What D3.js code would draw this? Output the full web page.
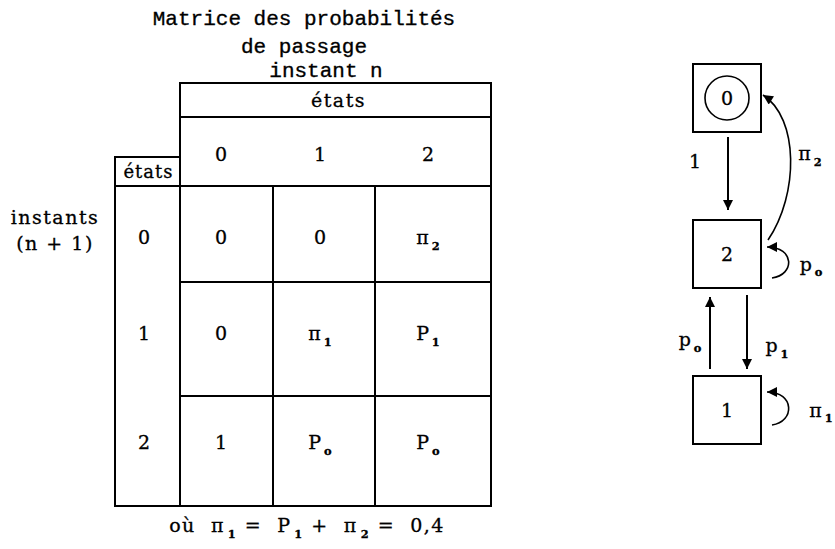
<!DOCTYPE html>
<html>
<head>
<meta charset="utf-8">
<script src="https://cdn.jsdelivr.net/npm/d3@7"></script>
<style>
  body { margin: 0; background: #fff; }
  .mono { font-family: "Liberation Mono", monospace; stroke: #000; stroke-width: 0.35px; }
  .serif { font-family: "DejaVu Serif", serif; stroke: #000; stroke-width: 0.3px; }
</style>
</head>
<body>
<script>
// ---- data ----
const titleLines = ["Matrice des probabilités", "de passage"];
const colTitle = "instant n";
const rowTitle = ["instants", "(n + 1)"];
const headerWord = "états";
const states = ["0", "1", "2"];
// rows = state at instant n+1, columns = state at instant n ("_x" = subscript x)
const cells = [
  ["0", "0", "π_2"],
  ["0", "π_1", "P_1"],
  ["1", "P_o", "P_o"]
];
const footnote = "où  π_1 =  P_1 +  π_2 =  0,4";

// graph : nodes top to bottom, edges with their labels
const nodeOrder = ["0", "2", "1"];
const circledNode = "0";
const edges = [
  { from: "0", to: "2", label: "1" },
  { from: "2", to: "0", label: "π_2" },
  { from: "2", to: "2", label: "p_o" },
  { from: "2", to: "1", label: "p_1" },
  { from: "1", to: "2", label: "p_o" },
  { from: "1", to: "1", label: "π_1" }
];

const width = 835, height = 549;

let svg = d3.select('body').append('svg')
            .attr('width', width)
            .attr('height', height);

svg.append('defs').append('marker')
   .attr('id', 'head')
   .attr('markerUnits', 'userSpaceOnUse')
   .attr('viewBox', '0 0 10 10')
   .attr('refX', 10).attr('refY', 5)
   .attr('markerWidth', 11).attr('markerHeight', 10)
   .attr('orient', 'auto')
   .append('path').attr('d', 'M0,0 L10,5 L0,10 Z').attr('fill', '#000');

// write a label with "_x" subscripts
function label(sel, txt, size) {
  sel.attr('font-size', size);
  let parts = txt.split(/_(\w)/);
  let back = 0;
  parts.forEach((p, i) => {
    if (p === '') return;
    if (i % 2 === 0) {
      sel.append('tspan').attr('font-size', size).attr('dy', back).text(p);
      back = 0;
    } else {
      sel.append('tspan')
         .attr('font-size', size * 0.6)
         .attr('font-weight', 'bold')
         .attr('dx', size * 0.15)
         .attr('dy', size * 0.3)
         .text(p);
      back = -size * 0.3;
    }
  });
  return sel;
}

// ---- titles ----
svg.selectAll('text.title')
   .data(titleLines)
   .enter().append('text')
   .attr('class', 'mono title')
   .attr('x', 304)
   .attr('y', (d, i) => 25 + i * 28)
   .attr('text-anchor', 'middle')
   .attr('font-size', 21)
   .text(d => d);

svg.append('text').attr('class', 'mono')
   .attr('x', 326).attr('y', 77)
   .attr('text-anchor', 'middle').attr('font-size', 21)
   .text(colTitle);

svg.selectAll('text.rowtitle')
   .data(rowTitle)
   .enter().append('text')
   .attr('class', 'serif rowtitle')
   .attr('x', 55)
   .attr('y', (d, i) => 224 + i * 26)
   .attr('text-anchor', 'middle')
   .attr('font-size', 19)
   .attr('letter-spacing', 1.5)
   .text(d => d);

// ---- table ----
let colEdge = [180, 273, 375, 491];
let rowEdge = [186, 282, 396, 506];
let x = d3.scaleOrdinal().domain(states).range(colEdge.slice(0, 3));
let xText = d3.scaleOrdinal().domain(states).range([221, 320, 428]);
let yText = d3.scaleOrdinal().domain(states).range([237, 333, 442]);
let rowHeadX = 144;
let tableLeft = 115, tableRight = colEdge[3];

let g = svg.append('g').attr('stroke', '#000').attr('stroke-width', 2).attr('fill', 'none');
let lines = [
  // header
  [colEdge[0], 83, tableRight, 83],
  [colEdge[0], 117, tableRight, 117],
  [tableLeft, rowEdge[0], tableRight, rowEdge[0]],
  [colEdge[0], 83, colEdge[0], rowEdge[3]],
  [tableRight, 83, tableRight, rowEdge[3]],
  [tableLeft, 157, colEdge[0], 157],
  [tableLeft, 157, tableLeft, rowEdge[3]],
  [tableLeft, rowEdge[3], tableRight, rowEdge[3]],
  // body
  [x("1"), rowEdge[0], x("1"), rowEdge[3]],
  [x("2"), rowEdge[0], x("2"), rowEdge[3]],
  [colEdge[0], rowEdge[1], tableRight, rowEdge[1]],
  [colEdge[0], rowEdge[2], tableRight, rowEdge[2]]
];
g.selectAll('line').data(lines).enter().append('line')
 .attr('x1', d => d[0]).attr('y1', d => d[1])
 .attr('x2', d => d[2]).attr('y2', d => d[3])
 .attr('stroke-linecap', 'square');

svg.append('text').attr('class', 'serif')
   .attr('x', (colEdge[0] + tableRight) / 2 + 3).attr('y', 107)
   .attr('text-anchor', 'middle').attr('font-size', 19)
   .attr('letter-spacing', 1.5)
   .text(headerWord);
svg.append('text').attr('class', 'serif')
   .attr('x', (tableLeft + colEdge[0]) / 2 + 1).attr('y', 178)
   .attr('text-anchor', 'middle').attr('font-size', 18)
   .attr('letter-spacing', 1)
   .text(headerWord);

// column headers
svg.selectAll('text.colhead').data(states).enter().append('text')
   .attr('class', 'serif colhead')
   .attr('x', d => xText(d)).attr('y', 161)
   .attr('text-anchor', 'middle').attr('font-size', 19)
   .text(d => d);

// row headers
svg.selectAll('text.rowhead').data(states).enter().append('text')
   .attr('class', 'serif rowhead')
   .attr('x', rowHeadX).attr('y', d => yText(d) + 7)
   .attr('text-anchor', 'middle').attr('font-size', 19)
   .text(d => d);

// cells
cells.forEach((row, r) => {
  row.forEach((c, k) => {
    let t = svg.append('text').attr('class', 'serif')
               .attr('x', xText(states[k])).attr('y', yText(states[r]) + 7)
               .attr('text-anchor', 'middle');
    label(t, c, 19);
  });
});

// footnote
label(svg.append('text').attr('class', 'serif')
         .attr('x', 307).attr('y', 532)
         .attr('text-anchor', 'middle')
         .attr('letter-spacing', 1.5)
         .style('white-space', 'pre'), footnote, 19);

// ---- state graph ----
let cx = 727, half = 34;
let ny = d3.scalePoint().domain(nodeOrder).range([98, 410]);

let nodes = svg.append('g');
nodes.selectAll('rect').data(nodeOrder).enter().append('rect')
     .attr('x', cx - half).attr('y', d => ny(d) - half)
     .attr('width', half * 2).attr('height', half * 2)
     .attr('fill', 'none').attr('stroke', '#000').attr('stroke-width', 2);
nodes.append('circle')
     .attr('cx', cx).attr('cy', ny(circledNode)).attr('r', 22)
     .attr('fill', 'none').attr('stroke', '#000').attr('stroke-width', 1.6);
nodes.selectAll('text').data(nodeOrder).enter().append('text')
     .attr('class', 'serif')
     .attr('x', cx).attr('y', d => ny(d) + 7)
     .attr('text-anchor', 'middle').attr('font-size', 19)
     .text(d => d);

function edgeGeom(e) {
  let y1 = ny(e.from), y2 = ny(e.to);
  if (e.from === e.to) {
    // small loop on the right side
    let sy = y1 + (e.from === "1" ? 15 : 24);
    let ey = y1 + (e.from === "1" ? -18 : -7);
    return {
      d: `M${cx + 45},${sy} C${cx + 68},${sy - 3} ${cx + 68},${ey} ${cx + 40},${ey}`,
      lx: cx + (e.from === "1" ? 94 : 84), ly: (sy + ey) / 2 + 8, w: 1.6
    };
  }
  if (y2 < y1 && e.to === "0") {
    // long arc back to the top
    return {
      d: `M${cx + 41},${y1 - 14} C${cx + 72},${y1 - 60} ${cx + 72},${y2 + 20} ${cx + 36},${y2 - 3}`,
      lx: cx + 83, ly: (y1 + y2) / 2 - 16, w: 1.6
    };
  }
  if (y2 > y1 && e.from === "0") {
    return {
      d: `M${cx + 1},${y1 + half + 5} L${cx + 1},${y2 - half - 10}`,
      lx: cx - 32, ly: (y1 + y2) / 2 - 8, w: 2
    };
  }
  if (y2 > y1) {
    return {
      d: `M${cx + 20},${y1 + half + 7} L${cx + 20},${y2 - half - 7}`,
      lx: cx + 50, ly: (y1 + y2) / 2 + 20, w: 2
    };
  }
  return {
    d: `M${cx - 17},${y1 - half - 7} L${cx - 17},${y2 + half + 9}`,
    lx: cx - 37, ly: (y1 + y2) / 2 + 14, w: 2
  };
}

let eg = svg.append('g');
edges.forEach(e => {
  let geo = edgeGeom(e);
  eg.append('path').attr('d', geo.d)
    .attr('fill', 'none').attr('stroke', '#000')
    .attr('stroke-width', geo.w)
    .attr('marker-end', 'url(#head)');
  let t = eg.append('text').attr('class', 'serif')
            .attr('x', geo.lx).attr('y', geo.ly)
            .attr('text-anchor', 'middle');
  label(t, e.label, 19);
});
</script>
</body>
</html>
